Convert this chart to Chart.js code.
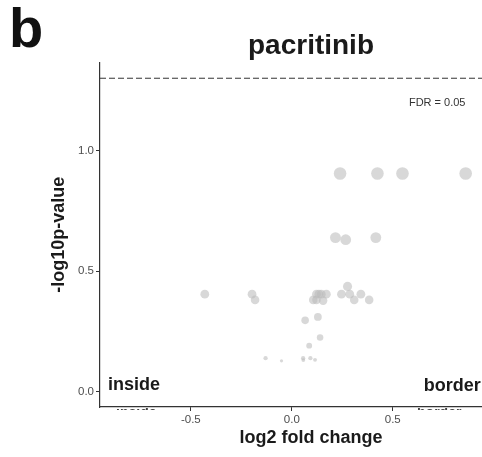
<!DOCTYPE html>
<html>
<head>
<meta charset="utf-8">
<script src="https://cdn.jsdelivr.net/npm/chart.js@4.4.1/dist/chart.umd.min.js"></script>
<style>
  html, body { margin: 0; padding: 0; background: #fff; overflow: hidden; }
  #wrap { width: 530px; height: 457px; }
</style>
</head>
<body>
<div id="wrap"><canvas id="Chart" width="530" height="457"></canvas></div>
<script>
// volcano data
const logFC = [
  0.239, 0.424, 0.548, 0.861,
  0.216, 0.267, 0.416,
  -0.431, -0.197, -0.182, 0.122, 0.134, 0.146, 0.171, 0.106, 0.122, 0.155,
  0.246, 0.276, 0.287, 0.309, 0.342, 0.383,
  0.066, 0.129, 0.140, 0.086,
  -0.130, -0.051, 0.056, 0.057, 0.092, 0.115
];
const negLogP = [
  0.905, 0.905, 0.905, 0.905,
  0.639, 0.630, 0.639,
  0.404, 0.404, 0.380, 0.404, 0.404, 0.404, 0.404, 0.380, 0.380, 0.377,
  0.404, 0.436, 0.404, 0.380, 0.404, 0.380,
  0.295, 0.309, 0.224, 0.190,
  0.138, 0.127, 0.138, 0.130, 0.138, 0.131
];
const FDR_CUTOFF = 1.301;
const xTicks = [-0.5, 0, 0.5];
const yTicks = [0, 0.5, 1.0];
const xRange = [-0.95, 1.14];
const yRange = [-0.065, 1.366];

const FONT = '"Liberation Sans", Arial, Helvetica, sans-serif';
const pMin = Math.min(...negLogP), pMax = Math.max(...negLogP);

// point size grows with -log10 p
function dotRadius(c) {
  const v = c.raw ? c.raw.y : pMin;
  const t = Math.max(0, (v - pMin) / (pMax - pMin));
  return 1.6 + 4.7 * Math.sqrt(t);
}

const labels = {
  id: 'labels',
  afterDraw(chart) {
    const ctx = chart.ctx;
    const x = chart.scales.x, y = chart.scales.y;
    ctx.save();
    ctx.fillStyle = '#111';
    ctx.textBaseline = 'alphabetic';
    ctx.textAlign = 'left';
    ctx.font = 'bold 56px ' + FONT;
    ctx.fillText('b', 9, 47);

    ctx.fillStyle = '#333';
    ctx.font = '11px ' + FONT;
    ctx.textAlign = 'center';
    ctx.textBaseline = 'middle';
    ctx.fillText('FDR = 0.05', x.getPixelForValue(0.72), y.getPixelForValue(1.2));

    ctx.fillStyle = '#1a1a1a';
    ctx.font = 'bold 18px ' + FONT;
    ctx.textBaseline = 'alphabetic';
    ctx.textAlign = 'left';
    ctx.fillText('inside', x.getPixelForValue(-0.91), y.getPixelForValue(0.006));
    ctx.textAlign = 'right';
    ctx.fillText('border', x.getPixelForValue(0.936), y.getPixelForValue(0.0));

    // clipped labels peeking out under the x axis
    ctx.beginPath();
    ctx.rect(chart.chartArea.left, chart.chartArea.bottom + 1, 420, 2);
    ctx.clip();
    ctx.fillStyle = '#444';
    ctx.font = 'bold 14px ' + FONT;
    ctx.textBaseline = 'top';
    ctx.textAlign = 'center';
    ctx.fillText('inside', x.getPixelForValue(-0.77), chart.chartArea.bottom - 1);
    ctx.fillText('border', x.getPixelForValue(0.73), chart.chartArea.bottom - 1);
    ctx.restore();
  }
};

const ctx = document.getElementById('Chart').getContext('2d');
const volcano = new Chart(ctx, {
  type: 'scatter',
  data: {
    datasets: [{
      label: 'genes',
      data: logFC.map((v, i) => ({ x: v, y: negLogP[i] })),
      backgroundColor: 'rgba(188,188,188,0.58)',
      borderWidth: 0,
      pointRadius: dotRadius,
      pointHoverRadius: dotRadius
    }, {
      type: 'line',
      label: 'FDR 0.05',
      data: [{ x: xRange[0], y: FDR_CUTOFF }, { x: xRange[1], y: FDR_CUTOFF }],
      borderColor: '#333',
      borderWidth: 1,
      borderDash: [6, 3],
      pointRadius: 0,
      fill: false
    }]
  },
  options: {
    responsive: false,
    animation: false,
    devicePixelRatio: 1,
    layout: { padding: { left: 0, right: 8, top: 0, bottom: 0 } },
    scales: {
      x: {
        type: 'linear',
        min: xRange[0],
        max: xRange[1],
        afterBuildTicks: s => { s.ticks = xTicks.map(v => ({ value: v })); },
        afterFit: s => { s.height = 50; },
        ticks: {
          autoSkip: false, maxRotation: 0, padding: 2,
          color: '#4d4d4d', font: { family: FONT, size: 11.5 },
          callback: v => v.toFixed(1)
        },
        grid: { drawOnChartArea: false, tickLength: 4, color: '#333' },
        border: { color: '#333', width: 1.2 },
        title: {
          display: true, text: 'log2 fold change', color: '#1a1a1a',
          font: { family: FONT, size: 18, weight: 'bold' },
          padding: { top: 0, bottom: 8 }
        }
      },
      y: {
        type: 'linear',
        min: yRange[0],
        max: yRange[1],
        afterBuildTicks: s => { s.ticks = yTicks.map(v => ({ value: v })); },
        afterFit: s => { s.width = 100; },
        ticks: {
          padding: 2, color: '#4d4d4d', font: { family: FONT, size: 11.5 },
          callback: v => v.toFixed(1)
        },
        grid: { drawOnChartArea: false, tickLength: 4, color: '#333' },
        border: { color: '#333', width: 1.2 },
        title: {
          display: true, text: '-log10p-value', color: '#1a1a1a',
          font: { family: FONT, size: 18, weight: 'bold' },
          padding: { top: 48, bottom: 0 }
        }
      }
    },
    plugins: {
      legend: { display: false },
      tooltip: { enabled: false },
      title: {
        display: true,
        fullSize: false,
        text: 'pacritinib',
        color: '#1a1a1a',
        font: { family: FONT, size: 28, weight: 'bold' },
        padding: { top: 29, bottom: 0 }
      }
    }
  },
  plugins: [labels]
});
</script>
</body>
</html>
